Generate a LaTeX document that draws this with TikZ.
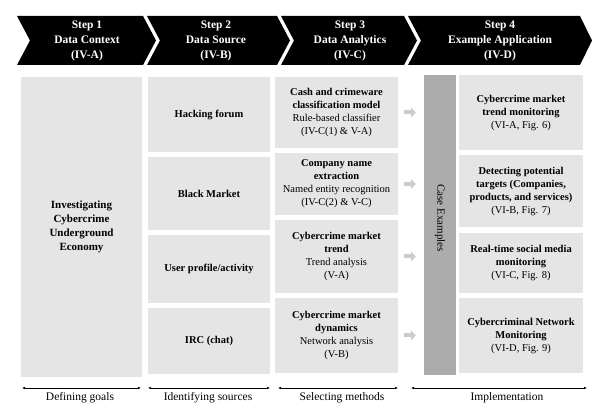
\documentclass[tikz,border=0pt]{standalone}
\usepackage{fontspec}
\setmainfont{Liberation Serif}
\usetikzlibrary{arrows.meta,calc}

\tikzset{
	chev/.style={fill=black},
	steptext/.style={text=white,align=center,font=\fontsize{11.5}{15}\selectfont\bfseries},
	box/.style={fill=gray!20,inner sep=2pt,align=center,font=\fontsize{10.5}{13}\selectfont},
	caseband/.style={fill=gray!65,inner sep=0pt,font=\fontsize{11}{13}\selectfont},
	feed/.style={gray!40,line width=4pt,-{Triangle[length=5pt,width=10pt]}},
	span/.style={line width=0.5pt,{Latex[length=3pt,width=2.5pt]}-{Latex[length=3pt,width=2.5pt]}},
	phase/.style={anchor=base,font=\fontsize{11.5}{13}\selectfont}
}

\begin{document}
\begin{tikzpicture}[x=1pt,y=-1pt]
	\useasboundingbox (0,0) rectangle (592,403);
	% header
	\fill[chev] (17,16)--(143,16)--(156,40.5)--(143,65)--(17,65)--(30,40.5)--cycle;
	\fill[chev] (147,16)--(277,16)--(290,40.5)--(277,65)--(147,65)--(160,40.5)--cycle;
	\fill[chev] (281,16)--(404,16)--(417,40.5)--(404,65)--(281,65)--(294,40.5)--cycle;
	\fill[chev] (408,16)--(580,16)--(592,40.5)--(580,65)--(408,65)--(421,40.5)--cycle;
	\node[steptext] (step1) at (87,40.5) {Step 1\\Data Context\\(IV-A)};
	\node[steptext] (step2) at (216,40.5) {Step 2\\Data Source\\(IV-B)};
	\node[steptext] (step3) at (350,40.5) {Step 3\\Data Analytics\\(IV-C)};
	\node[steptext] (step4) at (500,40.5) {Step 4\\Example Application\\(IV-D)};
	%
	\node[box,minimum width=121pt,minimum height=300pt,font=\fontsize{11}{14}\selectfont\bfseries] (goal) at (81.5,227) {Investigating\\Cybercrime\\Underground\\Economy};
	%
	\node[box,minimum width=122pt,minimum height=75pt,font=\fontsize{10.5}{13}\selectfont\bfseries] (src1) at (209,114.5) {Hacking forum};
	\node[box,minimum width=122pt,minimum height=73pt,font=\fontsize{10.5}{13}\selectfont\bfseries] (src2) at (209,193.5) {Black Market};
	\node[box,minimum width=122pt,minimum height=68pt,font=\fontsize{10.5}{13}\selectfont\bfseries] (src3) at (209,269) {User profile/activity};
	\node[box,minimum width=122pt,minimum height=66pt,font=\fontsize{10.5}{13}\selectfont\bfseries] (src4) at (209,341) {IRC (chat)};
	%
	\node[box,minimum width=123pt,minimum height=71pt] (mth1) at (336.5,112.5) {\textbf{Cash and crimeware}\\\textbf{classification model}\\Rule-based classifier\\(IV-C(1) \& V-A)};
	\node[box,minimum width=123pt,minimum height=62pt] (mth2) at (336.5,184) {\textbf{Company name}\\\textbf{extraction}\\Named entity recognition\\(IV-C(2) \& V-C)};
	\node[box,minimum width=123pt,minimum height=73pt] (mth3) at (336.5,256.5) {\textbf{Cybercrime market}\\\textbf{trend}\\Trend analysis\\(V-A)};
	\node[box,minimum width=123pt,minimum height=75pt] (mth4) at (336.5,335.5) {\textbf{Cybercrime market}\\\textbf{dynamics}\\Network analysis\\(V-B)};
	%
	\node[caseband,minimum width=32pt,minimum height=300pt] (case) at (440,225) {};
	\node[rotate=-90,font=\fontsize{11}{13}\selectfont] (caselbl) at (440,218) {Case Examples};
	%
	\node[box,minimum width=124pt,minimum height=75pt] (app1) at (521,112.5) {\textbf{Cybercrime market}\\\textbf{trend monitoring}\\(VI-A, Fig. 6)};
	\node[box,minimum width=124pt,minimum height=72pt] (app2) at (521,191) {\textbf{Detecting potential}\\\textbf{targets (Companies,}\\\textbf{products, and services)}\\(VI-B, Fig. 7)};
	\node[box,minimum width=124pt,minimum height=60pt] (app3) at (521,263) {\textbf{Real-time social media}\\\textbf{monitoring}\\(VI-C, Fig. 8)};
	\node[box,minimum width=124pt,minimum height=75pt] (app4) at (521,335.5) {\textbf{Cybercriminal Network}\\\textbf{Monitoring}\\(VI-D, Fig. 9)};
	%
	\draw[feed] ([xshift=6pt]mth1.east) -- ([xshift=-8pt]case.west |- mth1.east);
	\draw[feed] ([xshift=6pt]mth2.east) -- ([xshift=-8pt]case.west |- mth2.east);
	\draw[feed] ([xshift=6pt]mth3.east) -- ([xshift=-8pt]case.west |- mth3.east);
	\draw[feed] ([xshift=6pt]mth4.east) -- ([xshift=-8pt]case.west |- mth4.east);
	% phases
	\coordinate (p1l) at (22,388); \coordinate (p1r) at (141,388);
	\coordinate (p2l) at (148,388); \coordinate (p2r) at (270,388);
	\coordinate (p3l) at (278,388); \coordinate (p3r) at (398,388);
	\coordinate (p4l) at (411,388); \coordinate (p4r) at (587,388);
	\draw[span] (p1l) -- (p1r);
	\draw[span] (p2l) -- (p2r);
	\draw[span] (p3l) -- (p3r);
	\draw[span] (p4l) -- (p4r);
	\node[phase] (ph1) at (80,401) {Defining goals};
	\node[phase] (ph2) at (208,401) {Identifying sources};
	\node[phase] (ph3) at (342,401) {Selecting methods};
	\node[phase] (ph4) at (507,401) {Implementation};
\end{tikzpicture}
\end{document}
